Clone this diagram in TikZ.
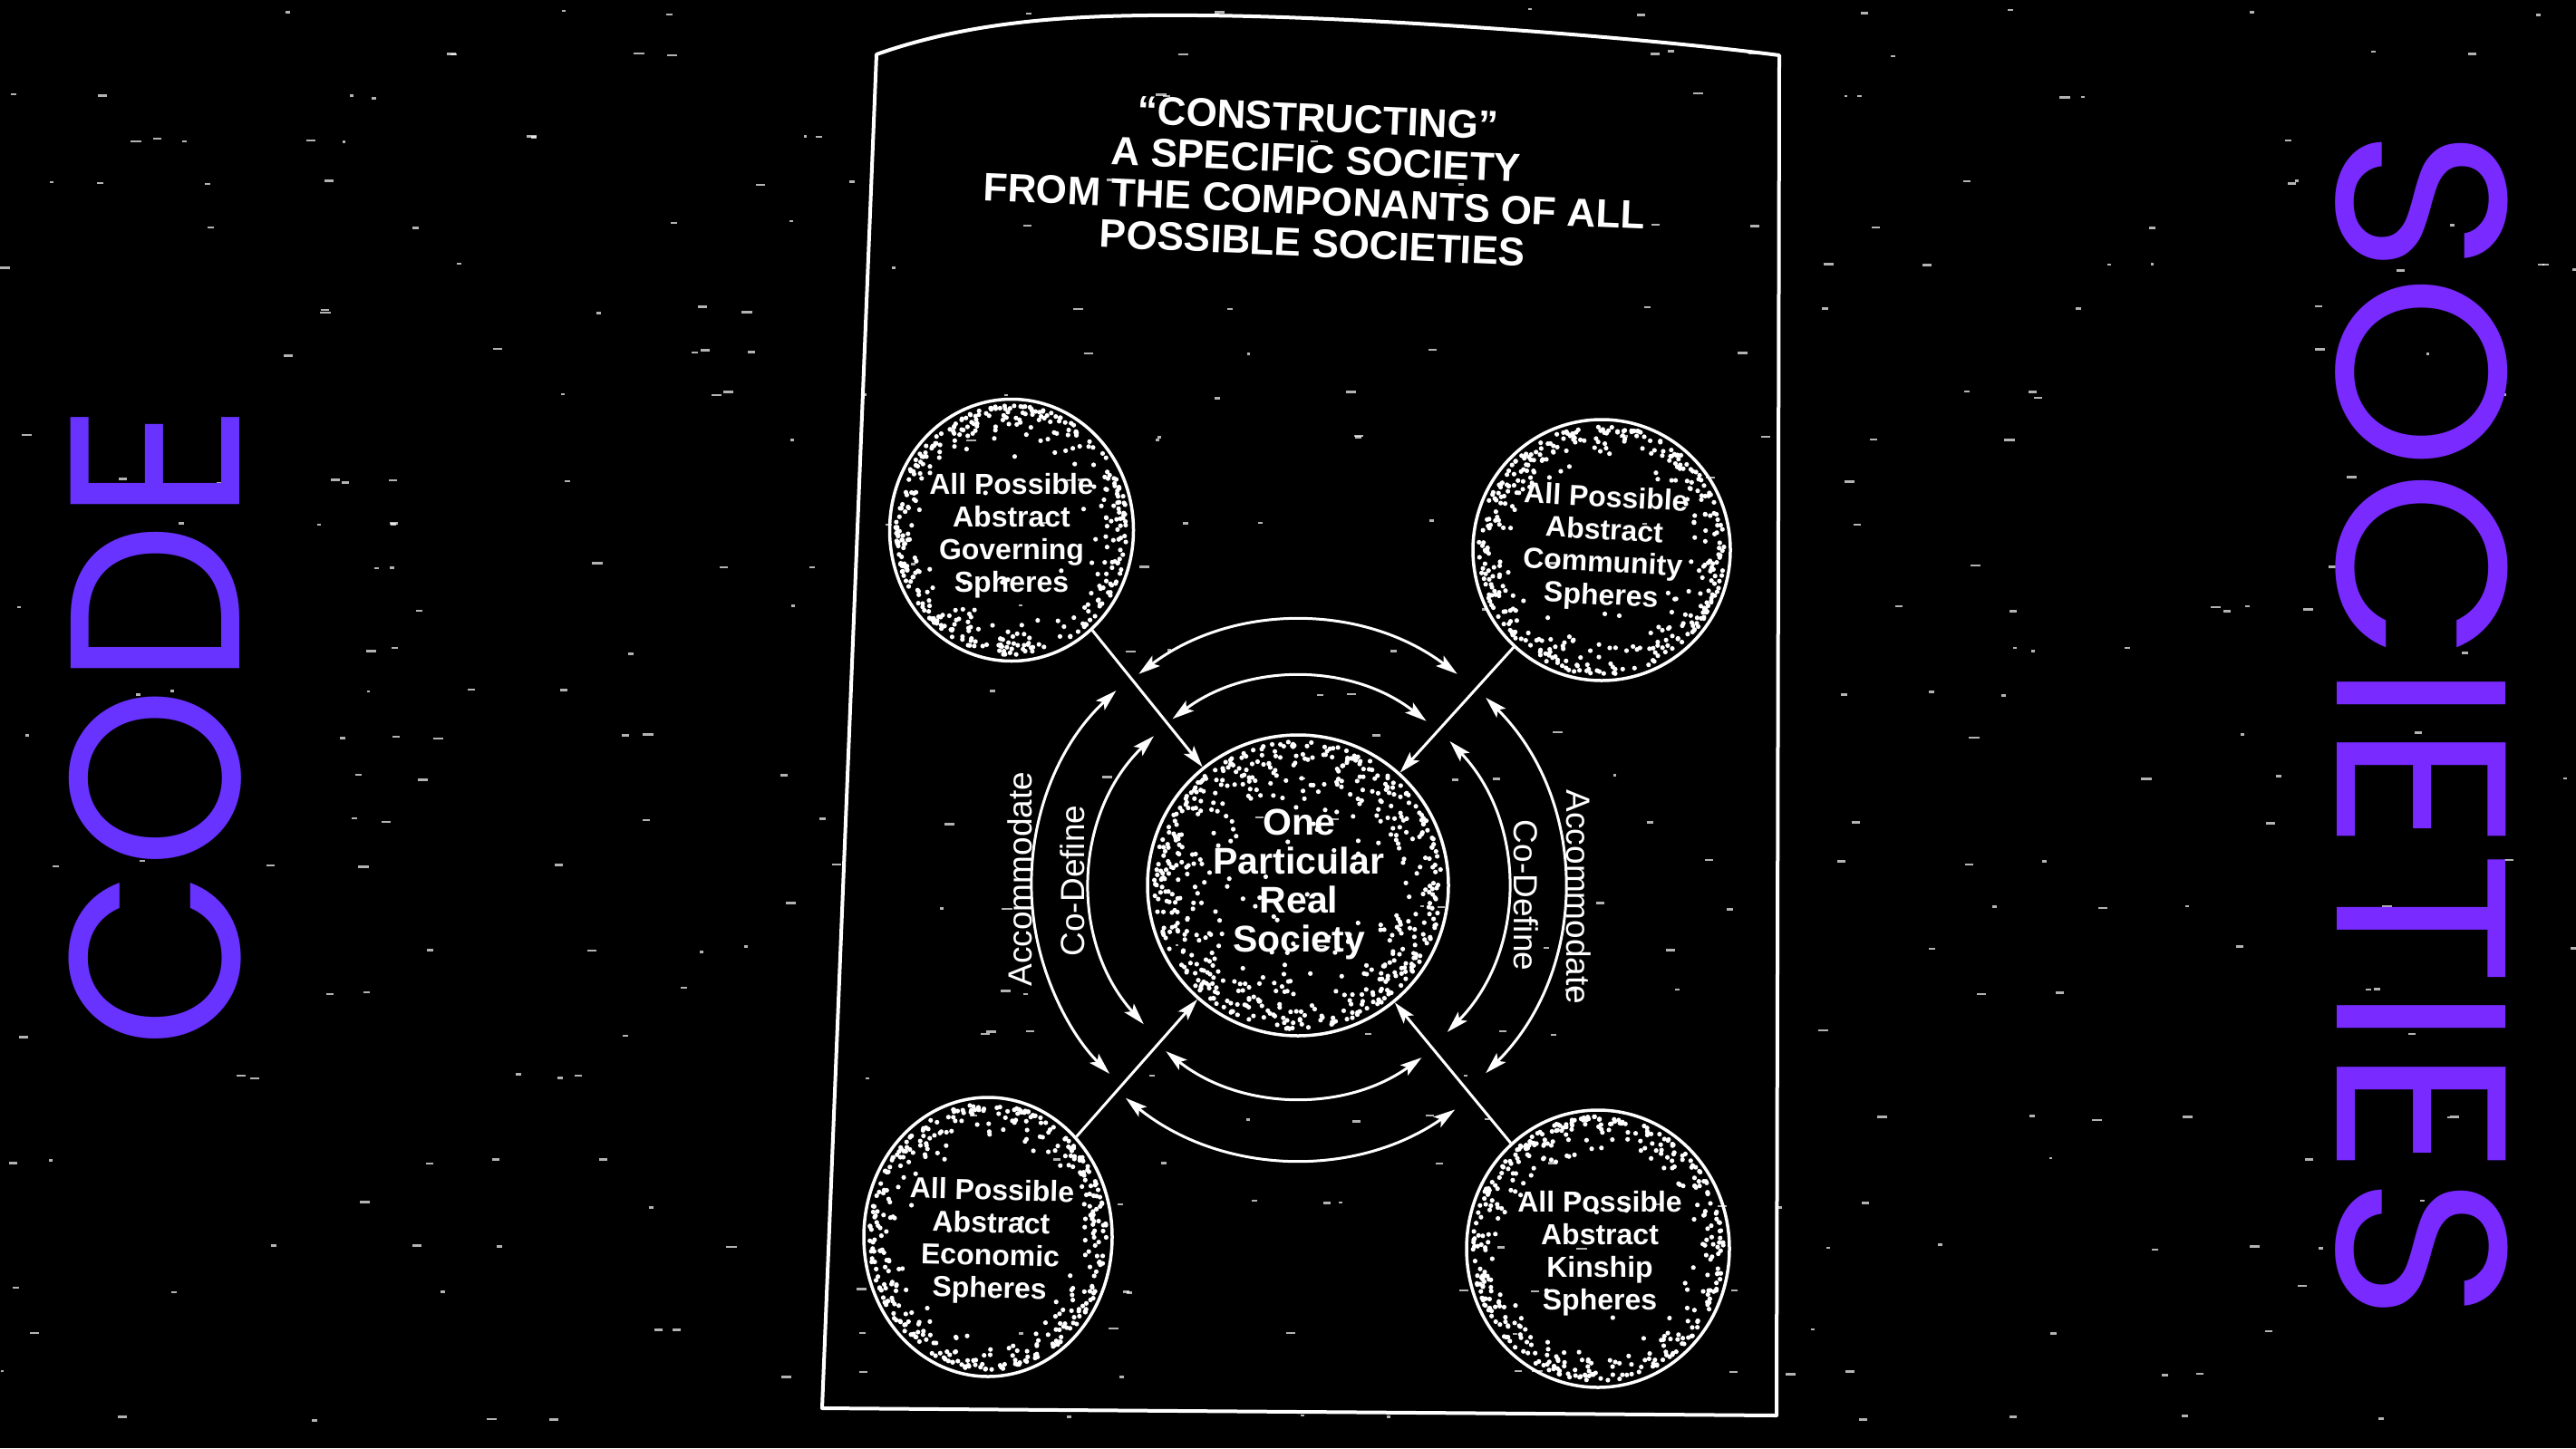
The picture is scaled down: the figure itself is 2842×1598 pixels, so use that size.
\documentclass[tikz,border=0pt]{standalone}
\usepackage{fontspec}
\setmainfont{Liberation Sans}
\newfontfamily\popfont{Poppins}
\usetikzlibrary{shapes.geometric,arrows.meta}
\definecolor{codecol}{RGB}{104,50,255}
\definecolor{soccol}{RGB}{120,42,255}
% #1 cx, #2 cy, #3 rx, #4 ry, #5 rim dots, #6 inner dots, #7 band depth
\newcommand\mystipple[7]{%
  \foreach \k in {1,...,#5}{%
    \pgfmathsetmacro\aa{360*rnd}%
    \pgfmathsetmacro\ff{0.955-#7*rnd*rnd}%
    \fill[white] ({#1+\ff*#3*cos(\aa)},{#2+\ff*#4*sin(\aa)}) circle[radius=2.6pt];
  }%
  \foreach \k in {1,...,#6}{%
    \pgfmathsetmacro\aa{360*rnd}%
    \pgfmathsetmacro\ff{0.9*sqrt(rnd)}%
    \fill[white] ({#1+\ff*#3*cos(\aa)},{#2+\ff*#4*sin(\aa)}) circle[radius=2.6pt];
  }%
}
\begin{document}
\begin{tikzpicture}[x=1pt,y=1pt,
  sphere/.style={ellipse, draw=white, line width=3.5pt, inner sep=0pt},
  stext/.style={text=white, align=center, inner sep=0pt, font=\fontsize{32}{36}\selectfont\bfseries},
  ttext/.style={text=white, inner sep=0pt, transform shape, font=\fontsize{44}{46}\selectfont\bfseries},
  conn/.style={white, line width=3pt, -{Stealth[length=24pt,width=14pt,inset=5pt]}},
  dconn/.style={white, line width=3pt, {Stealth[length=24pt,width=14pt,inset=5pt]}-{Stealth[length=24pt,width=14pt,inset=5pt]}},
  lab/.style={text=white, font=\fontsize{37}{40}\selectfont, inner sep=0pt},
  side/.style={font=\popfont\fontsize{267}{267}\selectfont, inner sep=0pt}]
\path[use as bounding box, fill=black] (0,0) rectangle (2842,-1598);
% scan noise
\pgfmathsetseed{7}
\foreach \r in {0,...,33}{
  \foreach \k in {1,...,11}{
    \pgfmathsetmacro\nx{2842*rnd}
    \pgfmathsetmacro\ny{-(14+47*\r+4*rand)}
    \pgfmathsetmacro\nl{3+9*rnd}
    \fill[white, opacity=0.7] (\nx,\ny) rectangle ++(\nl,2.5);
  }
}
% side words
\node[side, text=codecol, rotate=90] (code) at (171,-801) {\scalebox{0.96}[1]{CODE}};
\node[side, text=soccol, rotate=-90] (soc) at (2672,-800) {\scalebox{1.03}[1]{SOCIETIES}};
% page frame
\draw[white, line width=4pt, line join=round] (907,-1554) -- (967,-60)
  .. controls (1080,-20) and (1200,-16) .. (1321,-17)
  .. controls (1500,-18) and (1800,-40) .. (1963,-61) -- (1960,-1562) -- cycle;
% title
\begin{scope}[shift={(1451,-199)}, rotate=-2.5]
\node[ttext] (t1) at (0,69) {“CONSTRUCTING”};
\node[ttext] (t2) at (0,23) {A SPECIFIC SOCIETY};
\node[ttext] (t3) at (0,-23) {FROM THE COMPONANTS OF ALL};
\node[ttext] (t4) at (0,-69) {POSSIBLE SOCIETIES};
\end{scope}
% stipple
\pgfmathsetseed{11}
\mystipple{1116}{-585}{134}{144}{380}{10}{0.28}
\mystipple{1767}{-607}{142}{144}{390}{10}{0.28}
\mystipple{1432}{-977}{166}{166}{520}{70}{0.40}
\mystipple{1090}{-1365}{137}{154}{390}{10}{0.28}
\mystipple{1763}{-1378}{145}{153}{400}{10}{0.28}
% spheres
\node[sphere, minimum width=269pt, minimum height=289pt] (gov) at (1116,-585) {};
\node[sphere, minimum width=284pt, minimum height=288pt] (comm) at (1767,-607) {};
\node[sphere, minimum width=332pt, minimum height=332pt] (cen) at (1432,-977) {};
\node[sphere, minimum width=274pt, minimum height=308pt] (econ) at (1090,-1365) {};
\node[sphere, minimum width=290pt, minimum height=306pt] (kin) at (1763,-1378) {};
% sphere texts
\node[stext] (govt) at (1116,-591) {All Possible\\Abstract\\Governing\\Spheres};
\node[stext, rotate=-3] (commt) at (1769,-605) {All Possible\\Abstract\\Community\\Spheres};
\node[stext, font=\fontsize{41}{43}\selectfont\bfseries] (cent) at (1433,-976) {One\\Particular\\Real\\Society};
\node[stext, rotate=-1.5] (econt) at (1093,-1370) {All Possible\\Abstract\\Economic\\Spheres};
\node[stext] (kint) at (1765,-1383) {All Possible\\Abstract\\Kinship\\Spheres};
% radial arrows
\draw[conn] (gov) -- (cen);
\draw[conn] (comm) -- (cen);
\draw[conn] (econ) -- (cen);
\draw[conn] (kin) -- (cen);
% arcs
\draw[dconn] ([shift={(127:292)}]cen.center) arc[start angle=127, end angle=53, radius=292];
\draw[dconn] ([shift={(127:230)}]cen.center) arc[start angle=127, end angle=52, radius=230];
\draw[dconn] ([shift={(231.5:234)}]cen.center) arc[start angle=231.5, end angle=305.7, radius=234];
\draw[dconn] ([shift={(231:302)}]cen.center) arc[start angle=231, end angle=305, radius=302];
\draw[dconn] ([shift={(133:294)}]cen.center) arc[start angle=133, end angle=225, radius=294];
\draw[dconn] ([shift={(134:229)}]cen.center) arc[start angle=134, end angle=222, radius=229];
\draw[dconn] ([shift={(43.5:231)}]cen.center) arc[start angle=43.5, end angle=-44.5, radius=231];
\draw[dconn] ([shift={(45:293)}]cen.center) arc[start angle=45, end angle=-45, radius=293];
% arc labels
\node[lab, rotate=90, anchor=base] (accL) at (1138,-970) {Accommodate};
\node[lab, rotate=90, anchor=base] (coL) at (1196,-972) {Co-Define};
\node[lab, rotate=-90, anchor=base] (coR) at (1670,-988) {Co-Define};
\node[lab, rotate=-90, anchor=base] (accR) at (1728,-990) {Accommodate};
\end{tikzpicture}
\end{document}
